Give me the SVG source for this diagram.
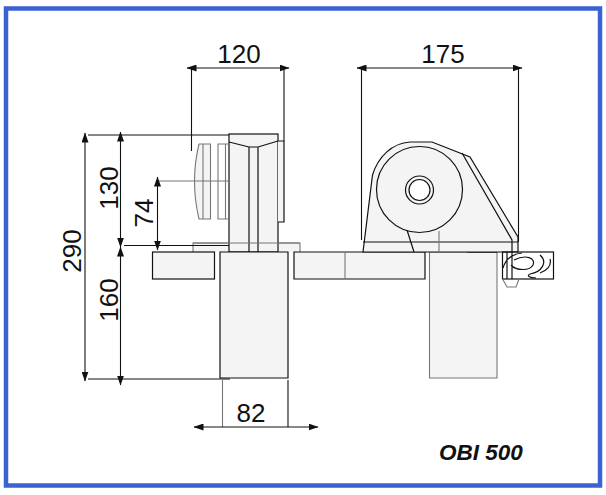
<svg xmlns="http://www.w3.org/2000/svg" width="606" height="495" viewBox="0 0 606 495">
<style>
.k{fill:none;stroke:#111;stroke-width:1.2}
.g{fill:none;stroke:#777;stroke-width:1.1}
.f{fill:#f4f4f4;stroke:#111;stroke-width:1.2}
.fg{fill:#f4f4f4;stroke:#777;stroke-width:1.1}
.d{fill:none;stroke:#111;stroke-width:1.1}
.t{font-family:"Liberation Sans",Arial,sans-serif;font-size:26px;fill:#111;text-anchor:middle}
</style>
<defs>
<marker id="a" viewBox="0 0 10 7" refX="9.500" refY="3.500" markerWidth="10" markerHeight="7" markerUnits="userSpaceOnUse" orient="auto-start-reverse"><path d="M0 0L10 3.500L0 7Z" fill="#111"/></marker>
</defs>
<rect width="606" height="495" fill="#fff"/>
<rect id="frame" x="6" y="8.500" width="594" height="477" fill="none" stroke="#3a62d0" stroke-width="4.500"/>
<g id="left-unit">
<path class="fg" d="M193 252V243H300V252"/>
<rect class="f" x="229" y="134" width="49" height="118"/>
<path class="k" d="M229 142L249 147H258L278 141M249 147V252M258 147V252"/>
<path class="g" d="M193 243H300"/>
<path class="f" d="M278 141H284V222H278"/>
<path class="g" d="M229 144H218V219H229M225.500 144V219"/>
<path class="fg" d="M199 144H210.500V219H199Q190 181 199 144M203 144V219"/>
</g>
<g id="left-post">
<path class="f" d="M220 252H288V378H220Z"/>
<rect class="f" x="152.500" y="252" width="62" height="27"/>
</g>
<g id="flange">
<path class="f" d="M425 252H294V279H425Z"/>
<path class="g" d="M345 252V279"/>
</g>
<g id="right-post">
<path class="fg" d="M429.500 252H497V378H429.500Z"/>
<path class="k" d="M467 252H497"/>
</g>
<g id="right-unit">
<path class="f" d="M363 252L372.500 175C378 157 392 143 410 142H432L470 157L518 237V252Z"/>
<path class="k" d="M363 242H518M462 153L512 240V252M407 230L414 252"/>
<path class="g" d="M439 231V252"/>
<circle class="f" cx="419.500" cy="189.500" r="43"/>
<circle cx="419.500" cy="190" r="14" fill="#f4f4f4" stroke="#111" stroke-width="1.2"/>
<circle cx="419.500" cy="190" r="10.500" fill="#fff" stroke="#111" stroke-width="1.2"/>
</g>
<g id="bracket">
<rect class="k" x="502.500" y="252" width="51" height="27" fill="#fff"/>
<path class="g" d="M502.500 279L507 287H516L519 279"/>
<path class="k" d="M507 252V279M512 252V279M514 260C526 254 536 258 533 265C530 271 516 271 511 265M503 268C506 258 512 254 522 253M540 255C548 262 542 272 530 274C526 276 530 278 536 278M550 259C552 266 546 271 540 273"/>
</g>
<g id="connectors">
<path class="d" d="M88 135H229M124 245.500H229M88 379H230"/>
<path class="g" d="M157 181H229M222.500 380V427"/>
<path class="d" d="M191.500 68V151M284 68V141M361.500 68V240M518.500 68V242M288 380V427"/>
<path class="d" d="M187 68H289" marker-start="url(#a)" marker-end="url(#a)"/>
<path class="d" d="M357 68H522" marker-start="url(#a)" marker-end="url(#a)"/>
<path class="d" d="M85 133V381" marker-start="url(#a)" marker-end="url(#a)"/>
<path class="d" d="M120.500 132V247" marker-start="url(#a)" marker-end="url(#a)"/>
<path class="d" d="M120.500 247V385" marker-start="url(#a)" marker-end="url(#a)"/>
<path class="d" d="M157.500 177V250" marker-start="url(#a)" marker-end="url(#a)"/>
<path class="d" d="M194 427H318" marker-start="url(#a)" marker-end="url(#a)"/>
</g>
<g id="labels">
<text class="t" x="239" y="63">120</text>
<text class="t" x="443" y="63">175</text>
<text class="t" x="251" y="422">82</text>
<text class="t" transform="translate(81 251) rotate(-90)">290</text>
<text class="t" transform="translate(118 188) rotate(-90)">130</text>
<text class="t" transform="translate(153 213) rotate(-90)">74</text>
<text class="t" transform="translate(118 300) rotate(-90)">160</text>
<text x="439" y="460" font-family="'Liberation Sans',Arial,sans-serif" font-size="22.500" font-weight="bold" font-style="italic" fill="#111">OBI 500</text>
</g>
</svg>
